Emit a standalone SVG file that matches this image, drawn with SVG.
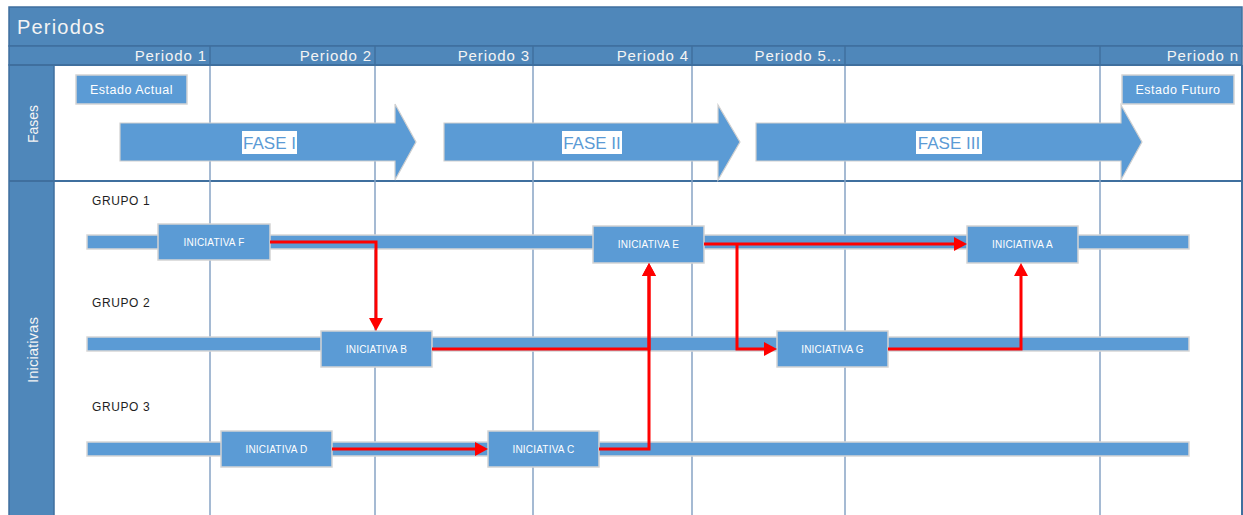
<svg xmlns="http://www.w3.org/2000/svg" width="1243" height="515" viewBox="0 0 1243 515">
  <style>
    .band { fill: #4f87ba; stroke: #3f6f9e; stroke-width: 1.5; }
    .sep { stroke: #3f6f9e; stroke-width: 2; fill: none; }
    .grid { stroke: #87a3c5; stroke-width: 1.5; fill: none; }
    .hdiv { stroke: #3f6f9e; stroke-width: 1.5; }
    .hdr { font-family: "Liberation Sans", Arial, sans-serif; fill: #f4f4f4; }
    .phase { fill: #5b9bd5; stroke: #d0d0d0; stroke-width: 1.2; }
    .phase-lbl-bg { fill: #ffffff; }
    .phase-lbl { font-family: "Liberation Sans", Arial, sans-serif; font-size: 17px; fill: #5b9bd5; text-anchor: middle; }
    .state { fill: #5b9bd5; stroke: #d4d4d4; stroke-width: 1.5; }
    .state-lbl { font-family: "Liberation Sans", Arial, sans-serif; font-size: 12.5px; fill: #ffffff; text-anchor: middle; letter-spacing: 0.5px; }
    .lane { fill: #5b9bd5; stroke: #d6d6d6; stroke-width: 1.5; }
    .grp { font-family: "Liberation Sans", Arial, sans-serif; font-size: 12px; fill: #1e1e1e; letter-spacing: 0.6px; }
    .box { fill: #5b9bd5; stroke: #d4d4d4; stroke-width: 1.5; }
    .box-lbl { font-family: "Liberation Sans", Arial, sans-serif; font-size: 10px; fill: #ffffff; text-anchor: middle; letter-spacing: 0.2px; }
    .link { fill: none; stroke: #ff0000; stroke-width: 3; stroke-linejoin: miter; marker-end: url(#head); }
  </style>
  <defs>
    <marker id="head" markerUnits="userSpaceOnUse" markerWidth="14" markerHeight="15" refX="0" refY="7" orient="auto" overflow="visible">
      <path d="M0,0 L13,7 L0,14 Z" fill="#ff0000"/>
    </marker>
  </defs>

  <!-- page background -->
  <rect x="0" y="0" width="1243" height="515" fill="#ffffff"/>

  <!-- frame: title band, period header row and side column -->
  <g id="frame">
    <rect class="band" x="9" y="7" width="1233" height="39"/>
    <rect class="band" x="9" y="46" width="1233" height="19"/>
    <rect class="band" x="9" y="65" width="45" height="460"/>
    <line class="sep" x1="1242" y1="65" x2="1242" y2="515"/>
    <line class="sep" x1="9" y1="181" x2="1242" y2="181"/>
    <line class="sep" x1="9" y1="65" x2="1242" y2="65"/>
    <!-- header row dividers -->
    <line class="hdiv" x1="210" y1="46" x2="210" y2="65"/>
    <line class="hdiv" x1="375" y1="46" x2="375" y2="65"/>
    <line class="hdiv" x1="533" y1="46" x2="533" y2="65"/>
    <line class="hdiv" x1="692" y1="46" x2="692" y2="65"/>
    <line class="hdiv" x1="845" y1="46" x2="845" y2="65"/>
    <line class="hdiv" x1="1100" y1="46" x2="1100" y2="65"/>
    <!-- period grid -->
    <line class="grid" x1="210" y1="66" x2="210" y2="515"/>
    <line class="grid" x1="375" y1="66" x2="375" y2="515"/>
    <line class="grid" x1="533" y1="66" x2="533" y2="515"/>
    <line class="grid" x1="692" y1="66" x2="692" y2="515"/>
    <line class="grid" x1="845" y1="66" x2="845" y2="515"/>
    <line class="grid" x1="1100" y1="66" x2="1100" y2="515"/>
    <text class="hdr" x="17" y="34" font-size="20" letter-spacing="1.2">Periodos</text>
    <g font-size="15" letter-spacing="0.9" text-anchor="end">
      <text class="hdr" x="207" y="61">Periodo 1</text>
      <text class="hdr" x="372" y="61">Periodo 2</text>
      <text class="hdr" x="530" y="61">Periodo 3</text>
      <text class="hdr" x="689" y="61">Periodo 4</text>
      <text class="hdr" x="842" y="61">Periodo 5...</text>
      <text class="hdr" x="1239" y="61">Periodo n</text>
    </g>
    <text class="hdr" font-size="14" text-anchor="middle" transform="translate(38,124) rotate(-90)">Fases</text>
    <text class="hdr" font-size="15" text-anchor="middle" transform="translate(38,350) rotate(-90)">Iniciativas</text>
  </g>

  <!-- start / end states -->
  <g id="estado-actual">
    <rect class="state" x="76" y="75" width="111" height="29"/>
    <text class="state-lbl" x="131.5" y="94">Estado Actual</text>
  </g>
  <g id="estado-futuro">
    <rect class="state" x="1122" y="75" width="112" height="29"/>
    <text class="state-lbl" x="1178" y="94">Estado Futuro</text>
  </g>

  <!-- phases -->
  <g id="fase-1">
    <path class="phase" d="M120,123 H395 V104 L416,142 L395,180 V161 H120 Z"/>
    <rect class="phase-lbl-bg" x="242" y="131" width="55" height="23"/>
    <text class="phase-lbl" x="269.5" y="149">FASE I</text>
  </g>
  <g id="fase-2">
    <path class="phase" d="M444,123 H718 V105 L740,142 L718,180 V161 H444 Z"/>
    <rect class="phase-lbl-bg" x="562" y="131" width="60" height="23"/>
    <text class="phase-lbl" x="592" y="149">FASE II</text>
  </g>
  <g id="fase-3">
    <path class="phase" d="M756,123 H1121 V105 L1142,142 L1121,180 V161 H756 Z"/>
    <rect class="phase-lbl-bg" x="916" y="131" width="66" height="23"/>
    <text class="phase-lbl" x="949" y="149">FASE III</text>
  </g>

  <!-- group lanes -->
  <g id="grupo-1">
    <text class="grp" x="92" y="205">GRUPO 1</text>
    <rect class="lane" x="87" y="235" width="1102" height="14"/>
  </g>
  <g id="grupo-2">
    <text class="grp" x="92" y="307">GRUPO 2</text>
    <rect class="lane" x="87" y="337" width="1102" height="14"/>
  </g>
  <g id="grupo-3">
    <text class="grp" x="92" y="411">GRUPO 3</text>
    <rect class="lane" x="87" y="442" width="1102" height="14"/>
  </g>

  <!-- initiatives -->
  <g id="iniciativa-f">
    <rect class="box" x="158" y="224" width="112" height="36"/>
    <text class="box-lbl" x="214" y="245.5">INICIATIVA F</text>
  </g>
  <g id="iniciativa-e">
    <rect class="box" x="593" y="226" width="111" height="37"/>
    <text class="box-lbl" x="648.5" y="248">INICIATIVA E</text>
  </g>
  <g id="iniciativa-a">
    <rect class="box" x="967" y="226" width="111" height="37"/>
    <text class="box-lbl" x="1022.5" y="248">INICIATIVA A</text>
  </g>
  <g id="iniciativa-b">
    <rect class="box" x="321" y="331" width="111" height="36"/>
    <text class="box-lbl" x="376.5" y="352.5">INICIATIVA B</text>
  </g>
  <g id="iniciativa-g">
    <rect class="box" x="777" y="331" width="111" height="36"/>
    <text class="box-lbl" x="832.5" y="352.5">INICIATIVA G</text>
  </g>
  <g id="iniciativa-d">
    <rect class="box" x="221" y="431" width="111" height="36"/>
    <text class="box-lbl" x="276.5" y="452.5">INICIATIVA D</text>
  </g>
  <g id="iniciativa-c">
    <rect class="box" x="488" y="431" width="111" height="36"/>
    <text class="box-lbl" x="543.5" y="452.5">INICIATIVA C</text>
  </g>

  <!-- dependencies -->
  <g id="connectors">
    <path class="link" d="M270,242 H376 V318"/>
    <path class="link" d="M432,349 H649 V276"/>
    <path class="link" d="M599,449 H649 V276"/>
    <path class="link" d="M704,244 H954"/>
    <path class="link" d="M737,244 V349 H764"/>
    <path class="link" d="M888,349 H1021 V276"/>
    <path class="link" d="M332,449 H475"/>
  </g>
</svg>
